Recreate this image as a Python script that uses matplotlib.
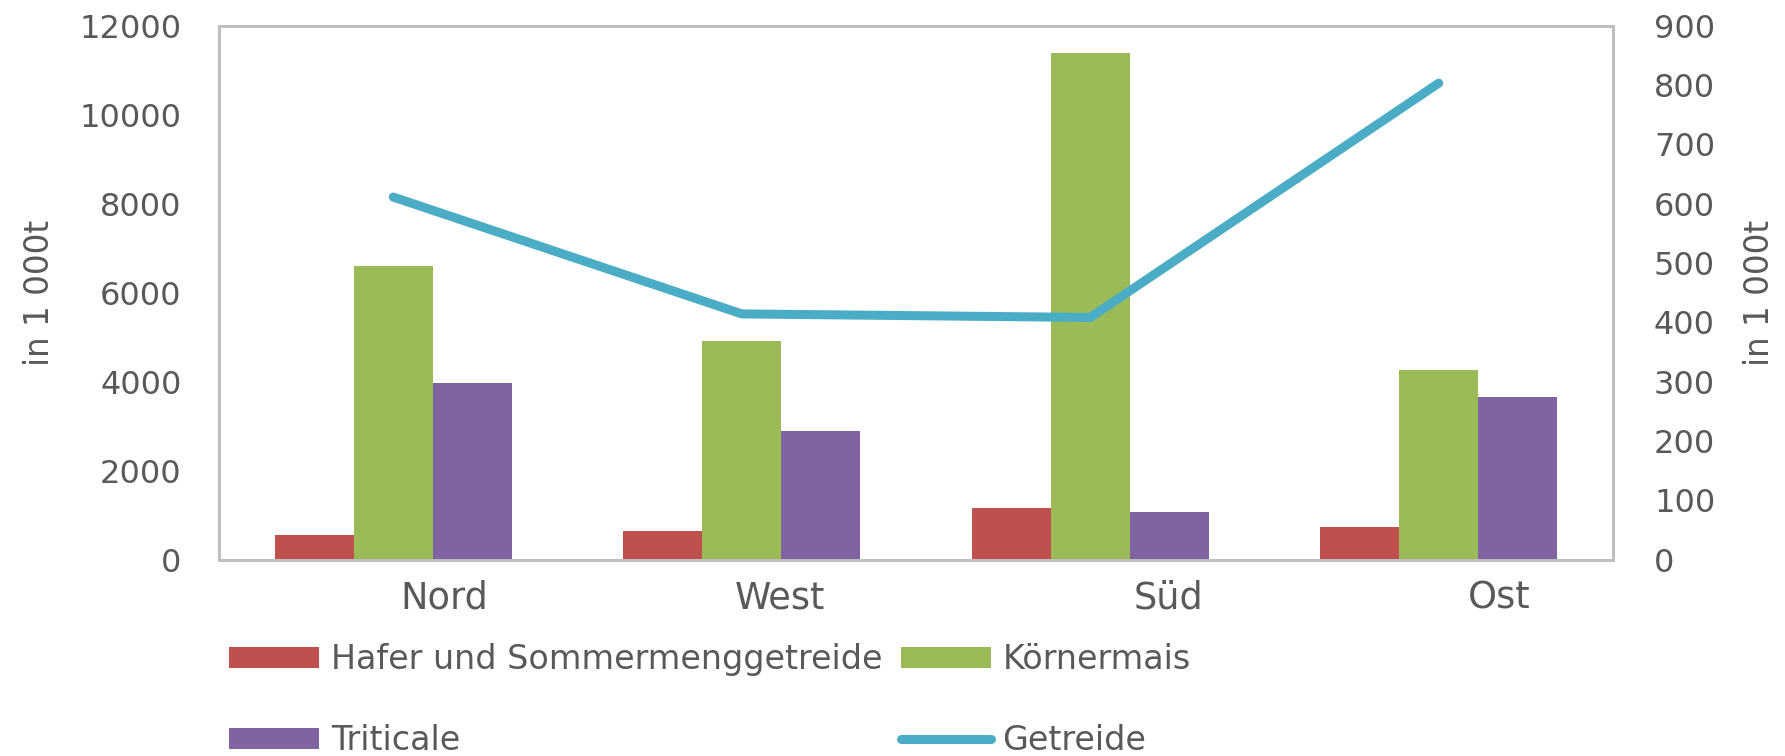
import matplotlib
matplotlib.use("Agg")
import matplotlib.pyplot as plt
import matplotlib.transforms as mtransforms
import numpy as np

categories = ["Nord", "West", "Süd", "Ost"]
hafer = [550, 636, 1153, 730]
koernermais = [6600, 4910, 11380, 4258]
triticale = [3966, 2888, 1067, 3654]
getreide = [611, 414, 408, 803]
left_ticks = [0, 2000, 4000, 6000, 8000, 10000, 12000]
right_ticks = [0, 100, 200, 300, 400, 500, 600, 700, 800, 900]

plt.rcParams['font.family'] = ['DejaVu Sans']
TXT = '#595959'
GRID = '#BFBFBF'

fig = plt.figure(figsize=(17.85, 7.56), dpi=100)
ax = fig.add_axes([219/1785, 1 - 559.5/756, (1613-219)/1785, (559.5-25.6)/756])
ax2 = ax.twinx()

x = np.arange(len(categories))
w = 0.2267
b1 = ax.bar(x - w, hafer, w, color='#C0504D', label='Hafer und Sommermenggetreide', zorder=2)
b2 = ax.bar(x, koernermais, w, color='#9BBB59', label='Körnermais', zorder=2)
b3 = ax.bar(x + w, triticale, w, color='#8064A2', label='Triticale', zorder=2)
l1, = ax2.plot(x, getreide, color='#4BACC6', lw=6.5, solid_capstyle='round',
               solid_joinstyle='miter', label='Getreide', zorder=3)

ax.set_xlim(-0.5, 3.5)
ax.set_ylim(0, 12000)
ax2.set_ylim(0, 900)
ax.set_yticks(left_ticks)
ax2.set_yticks(right_ticks)
ax.set_xticks(x)
ax.set_xticklabels([])

# category labels, shifted to the right as in the reference
offs = [51, 38, 78, 60]
base = mtransforms.blended_transform_factory(ax.transData, ax.transAxes)
for xi, name, o in zip(x, categories, offs):
    tr = base + mtransforms.ScaledTranslation(o/100, -20/100, fig.dpi_scale_trans)
    ax.text(xi, 0, name, transform=tr, ha='center', va='top',
            fontsize=26.5, color=TXT)

ax.tick_params(axis='x', length=0)
ax.tick_params(axis='y', length=0, pad=27, labelsize=23, labelcolor=TXT)
ax2.tick_params(axis='y', length=0, pad=29.5, labelsize=23, labelcolor=TXT)

for a in (ax, ax2):
    for s in a.spines.values():
        s.set_color(GRID)
        s.set_linewidth(2)

ax.set_ylabel('in 1 000t', fontsize=23.5, color=TXT, labelpad=17)
ax2.set_ylabel('in 1 000t', fontsize=23.5, color=TXT, labelpad=20, rotation=90)

ax.set_zorder(ax2.get_zorder() - 1)
ax.patch.set_visible(True)
ax2.patch.set_visible(False)

handles = [b1, b3, b2, l1]
labels = [h.get_label() for h in handles]
fig.legend(handles, labels, ncol=2, loc='upper left',
           bbox_to_anchor=(229/1785, 1 - 643/756), frameon=False,
           fontsize=24, labelcolor=TXT, handlelength=2.7, handleheight=0.6,
           handletextpad=0.36, columnspacing=0.54, labelspacing=1.45,
           borderpad=0, borderaxespad=0)

fig.savefig('out.png', dpi=100)
